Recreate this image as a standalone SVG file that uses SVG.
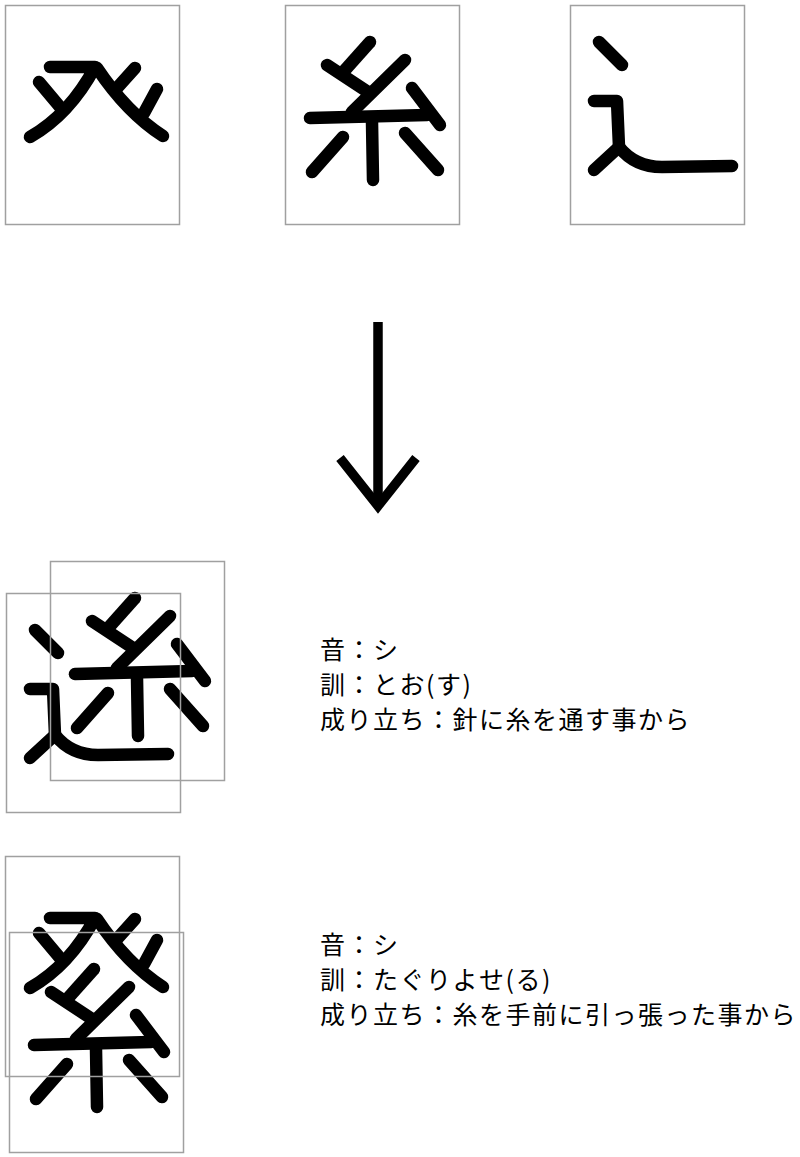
<svg xmlns="http://www.w3.org/2000/svg" xmlns:xlink="http://www.w3.org/1999/xlink" width="800" height="1157" viewBox="0 0 800 1157">
<style>
.stk{fill:none;stroke:#000;stroke-width:12.5;stroke-linecap:round;stroke-linejoin:round}
.box{fill:none;stroke:#a0a0a0;stroke-width:1.5}
.txt{font-family:"Noto Sans CJK JP","Noto Sans",sans-serif;font-size:25px;letter-spacing:1.5px;fill:#000}
.arr{fill:none;stroke:#000;stroke-width:9.5}
</style>
<defs>
<g id="hatsu-s">
<path d="M50,67 L95,67 C80,95 60,120 30,137"/>
<path d="M39,82 L60,107"/>
<path d="M97,68 C115,95 135,118 163,136"/>
<path d="M135,68 L117,88"/>
<path d="M157,89 L144,113"/>
</g>
<g id="ito-s">
<path d="M370,42 L345,70"/>
<path d="M327,65 L368,92"/>
<path d="M405,60 L352,112"/>
<path d="M310,118 L427,115"/>
<path d="M412,88 L440,125"/>
<path d="M372,122 L373,180"/>
<path d="M343,137 L312,172"/>
<path d="M405,133 L438,170"/>
</g>
<g id="shin-s">
<path d="M599,42 L622,65"/>
<path d="M594,101 L617,101 L619,147"/>
<path d="M619,147 L594,170"/>
<path d="M619,147 Q635,167 662,167 L732,166"/>
</g>
</defs>

<g id="comp-hatsu">
<use xlink:href="#hatsu-s" class="stk"/>
<rect class="box" x="5.5" y="5.5" width="174" height="219"/>
</g>
<g id="comp-ito">
<use xlink:href="#ito-s" class="stk"/>
<rect class="box" x="285.5" y="5.5" width="174" height="219"/>
</g>
<g id="comp-shin">
<use xlink:href="#shin-s" class="stk"/>
<rect class="box" x="570.5" y="5.5" width="174" height="219"/>
</g>

<g id="connectors">
<line class="arr" x1="378" y1="322" x2="378" y2="500"/>
<polyline class="arr" points="340,458 378,506 416,458" stroke-width="10" stroke-linejoin="miter" stroke-miterlimit="10"/>
</g>

<g id="kanji-1">
<use xlink:href="#shin-s" class="stk" transform="translate(-564,588)"/>
<use xlink:href="#ito-s" class="stk" transform="translate(-235,556)"/>
<rect class="box" x="6.5" y="593.5" width="174" height="219"/>
<rect class="box" x="50.5" y="561.5" width="174" height="219"/>
</g>

<g id="info-1">
<text class="txt" x="320" y="659">音：シ</text>
<text class="txt" x="320" y="694">訓：とお(す)</text>
<text class="txt" x="320" y="729">成り立ち：針に糸を通す事から</text>
</g>

<g id="kanji-2">
<use xlink:href="#hatsu-s" class="stk" transform="translate(0,851)"/>
<use xlink:href="#ito-s" class="stk" transform="translate(-276,927)"/>
<rect class="box" x="5.5" y="856.5" width="174" height="220"/>
<rect class="box" x="9.5" y="932.5" width="174" height="220"/>
</g>

<g id="info-2">
<text class="txt" x="320" y="954">音：シ</text>
<text class="txt" x="320" y="989">訓：たぐりよせ(る)</text>
<text class="txt" x="320" y="1024">成り立ち：糸を手前に引っ張った事から</text>
</g>
</svg>
